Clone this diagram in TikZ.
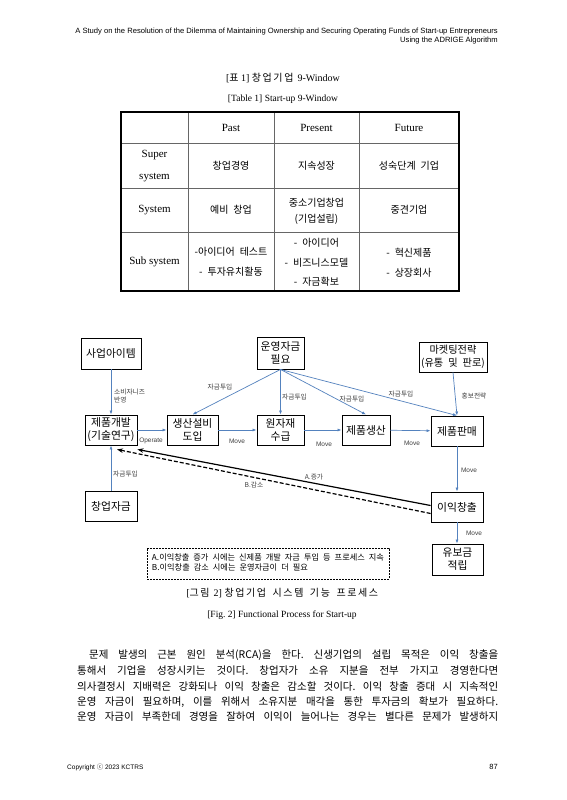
\documentclass[tikz,border=0pt]{standalone}
\usepackage{fontspec}
\usepackage{graphicx}
\setmainfont{Liberation Serif}
\newfontfamily\kr[WordSpace=2.2]{Noto Sans CJK KR}
\newfontfamily\hd{Liberation Sans}
\usetikzlibrary{arrows.meta,calc}
\definecolor{arr}{RGB}{84,130,190}
\frenchspacing
\newdimen\lskern \lskern=1.6pt
\def\lsp#1{\lspi#1\relax}
\def\lspi#1{\ifx\relax#1\else#1\kern\lskern\expandafter\lspi\fi}
\tikzset{
 box/.style={draw, line width=0.9pt, font=\kr\fontsize{10.8}{13}\selectfont, align=center, inner sep=0pt},
 lab/.style={font=\kr\fontsize{6.7}{8}\selectfont, text=black!75, inner sep=0pt, align=left},
 mv/.style={font=\hd\fontsize{6.5}{7.5}\selectfont, text=black!75, inner sep=0pt},
 bl/.style={draw=arr, line width=0.7pt, -{Latex[length=4pt,width=3pt]}},
 bk/.style={draw=black, line width=1.2pt, -{Stealth[length=6pt,width=4.5pt]}},
 kc/.style={font=\kr\fontsize{10}{#1}\selectfont, align=center, inner sep=0pt},
 kc/.default=12,
 ec/.style={font=\fontsize{11}{#1}\selectfont, align=center, inner sep=0pt},
 ec/.default=12,
 hdr/.style={font=\hd\fontsize{7.6}{9}\selectfont, inner sep=0pt, anchor=east},
 captxt/.style={font=\fontsize{10}{12}\selectfont, inner sep=0pt},
 bodyl/.style={font=\kr\fontsize{10.5}{12}\selectfont, inner sep=0pt, anchor=west},
}
\begin{document}
\begin{tikzpicture}[x=1pt,y=-1pt]
\useasboundingbox[fill=white] (0,0) rectangle (566,800);
% header
\node[hdr] (h1) at (498,32) {A Study on the Resolution of the Dilemma of Maintaining Ownership and Securing Operating Funds of Start-up Entrepreneurs};
\node[hdr] (h2) at (498,41) {Using the ADRIGE Algorithm};
% table caption
\node[captxt] (tc1) at (283,78) {[{\kr 표} 1] {\kr\lsp{창업기업}} 9-Window};
\node[captxt, font=\fontsize{9.5}{12}\selectfont] (tc2) at (283,99) {[Table 1] Start-up 9-Window};
% table grid
\draw[black!60, line width=0.6pt] (188,112) -- (188,291) (274,112) -- (274,291) (359,112) -- (359,291)
  (121,143) -- (459,143) (121,188) -- (459,188) (121,232) -- (459,232);
\draw[line width=1.5pt] (121,112) rectangle (459,291);
% table cells
\node[ec] (cpast) at (231,127.5) {Past};
\node[ec] (cpres) at (316.5,127.5) {Present};
\node[ec] (cfut) at (409,127.5) {Future};
\node[ec=21.7] (rsup) at (154.5,166) {Super\\system};
\node[ec] (rsys) at (154.5,210) {System};
\node[ec] (rsub) at (154.5,262) {Sub system};
\node[kc] (c11) at (231,166) {창업경영};
\node[kc] (c12) at (316.5,166) {지속성장};
\node[kc] (c13) at (409,166) {성숙단계 기업};
\node[kc] (c21) at (231,210) {예비 창업};
\node[kc=16.3] (c22) at (316.5,211) {중소기업창업\\(기업설립)};
\node[kc] (c23) at (409,210) {중견기업};
\node[kc=20] (c31) at (231,262) {-아이디어 테스트\\- 투자유치활동};
\node[kc=19.5] (c32) at (316.5,262.5) {- 아이디어\\- 비즈니스모델\\- 자금확보};
\node[kc=19.5] (c33) at (409,262.5) {- 혁신제품\\- 상장회사};
% diagram boxes
\node[box, minimum width=60pt, minimum height=31pt] (sa) at (111,353.5) {사업아이템};
\node[box, minimum width=47pt, minimum height=32pt] (un) at (280.5,353) {운영자금\\필요};
\node[box, minimum width=68pt, minimum height=30pt, font=\kr\fontsize{10.2}{12.5}\selectfont] (mk) at (453,357) {마켓팅전략\\(유통 및 판로)};
\node[box, minimum width=52pt, minimum height=30pt] (jg) at (111,430) {제품개발\\(기술연구)};
\node[box, minimum width=51pt, minimum height=30pt] (ss) at (192.5,430) {생산설비\\도입};
\node[box, minimum width=47pt, minimum height=30pt] (wj) at (280.5,430) {원자재\\수급};
\node[box, minimum width=48pt, minimum height=30pt] (js) at (366,430) {제품생산};
\node[box, minimum width=52pt, minimum height=30pt] (jp) at (457,431) {제품판매};
\node[box, minimum width=52pt, minimum height=30pt] (cj) at (111,506) {창업자금};
\node[box, minimum width=52pt, minimum height=30pt] (ei) at (457,507) {이익창출};
\node[box, minimum width=51pt, minimum height=31pt] (yb) at (457.5,559.5) {유보금\\적립};
% blue arrows
\draw[bl] (sa) -- (jg);
\node[lab, anchor=west] (l1) at (114,396) {소비자니즈\\반영};
\draw[bl] (cj) -- (jg);
\node[lab, anchor=west] (l2) at (113,474) {자금투입};
\draw[bl] (jg) -- (ss);
\node[mv] (m1) at (151,441) {Operate};
\draw[bl] (ss) -- (wj);
\node[mv] (m2) at (237,441) {Move};
\draw[bl] (wj) -- (js);
\node[mv] (m3) at (324,444) {Move};
\draw[bl] (js) -- (jp);
\node[mv] (m4) at (412,443) {Move};
\draw[bl] (un.south) -- (ss.north);
\node[lab] (l3) at (220,387) {자금투입};
\draw[bl] (un.south) -- (wj.north);
\node[lab, anchor=west] (l4) at (282,397) {자금투입};
\draw[bl] (un.south) -- (js.north);
\node[lab] (l5) at (352,399) {자금투입};
\draw[bl] (un.south) -- (jp.north);
\node[lab] (l6) at (401,394) {자금투입};
\draw[bl] (mk.south) -- (jp.north);
\node[lab] (l7) at (474,396) {홍보전략};
\draw[bl] (jp.south) -- (jp.south |- ei.north);
\node[mv] (m5) at (469,470) {Move};
\draw[bl] (ei.south) -- (ei.south |- yb.north);
\node[mv] (m6) at (474,533) {Move};
% black feedback arrows
\draw[bk] ($(ei.west)+(0,-1.5)$) -- ($(jg.south east)+(0,4)$);
\draw[bk, dashed, dash pattern=on 4pt off 2pt] ($(ei.west)+(0,6.5)$) -- ($(jg.south)+(6,4)$);
\node[lab] (la) at (314,477) {A.증가};
\node[lab] (lb) at (254,485) {B.감소};
% note box
\node[draw, dashed, dash pattern=on 2pt off 1pt, line width=0.8pt, minimum width=242pt, minimum height=31pt,
  inner sep=0pt, align=left] (note) at (268,563.5)
  {\resizebox{232pt}{!}{\kr\fontsize{8}{8.2}\selectfont\begin{tabular}{@{}l@{}}A.이익창출 증가 시에는 신제품 개발 자금 투입 등 프로세스 지속\\B.이익창출 감소 시에는 운영자금이 더 필요\end{tabular}}};
% figure caption
\node[captxt] (fc1) at (283,593) {[{\kr\lsp{그림}} 2] {\kr\lsp{창업기업} \lsp{시스템} \lsp{기능} \lsp{프로세스}}};
\node[captxt, font=\fontsize{9.5}{12}\selectfont] (fc2) at (282,615) {[Fig. 2] Functional Process for Start-up};
% body text
\node[bodyl] (b1) at (89,655) {\makebox[409pt][s]{문제 발생의 근본 원인 분석(RCA)을 한다. 신생기업의 설립 목적은 이익 창출을}};
\node[bodyl] (b2) at (77,671) {\makebox[421pt][s]{통해서 기업을 성장시키는 것이다. 창업자가 소유 지분을 전부 가지고 경영한다면}};
\node[bodyl] (b3) at (77,687) {\makebox[421pt][s]{의사결정시 지배력은 강화되나 이익 창출은 감소할 것이다. 이익 창출 증대 시 지속적인}};
\node[bodyl] (b4) at (77,702) {\makebox[421pt][s]{운영 자금이 필요하며, 이를 위해서 소유지분 매각을 통한 투자금의 확보가 필요하다.}};
\node[bodyl] (b5) at (77,717) {\makebox[421pt][s]{운영 자금이 부족한데 경영을 잘하여 이익이 늘어나는 경우는 별다른 문제가 발생하지}};
% footer
\node[hdr, anchor=west, font=\hd\fontsize{6.5}{8}\selectfont] (f1) at (67,767) {Copyright {\kr ⓒ} 2023 KCTRS};
\node[hdr, font=\hd\fontsize{7.5}{9}\selectfont] (f2) at (498,767) {87};
\end{tikzpicture}
\end{document}
